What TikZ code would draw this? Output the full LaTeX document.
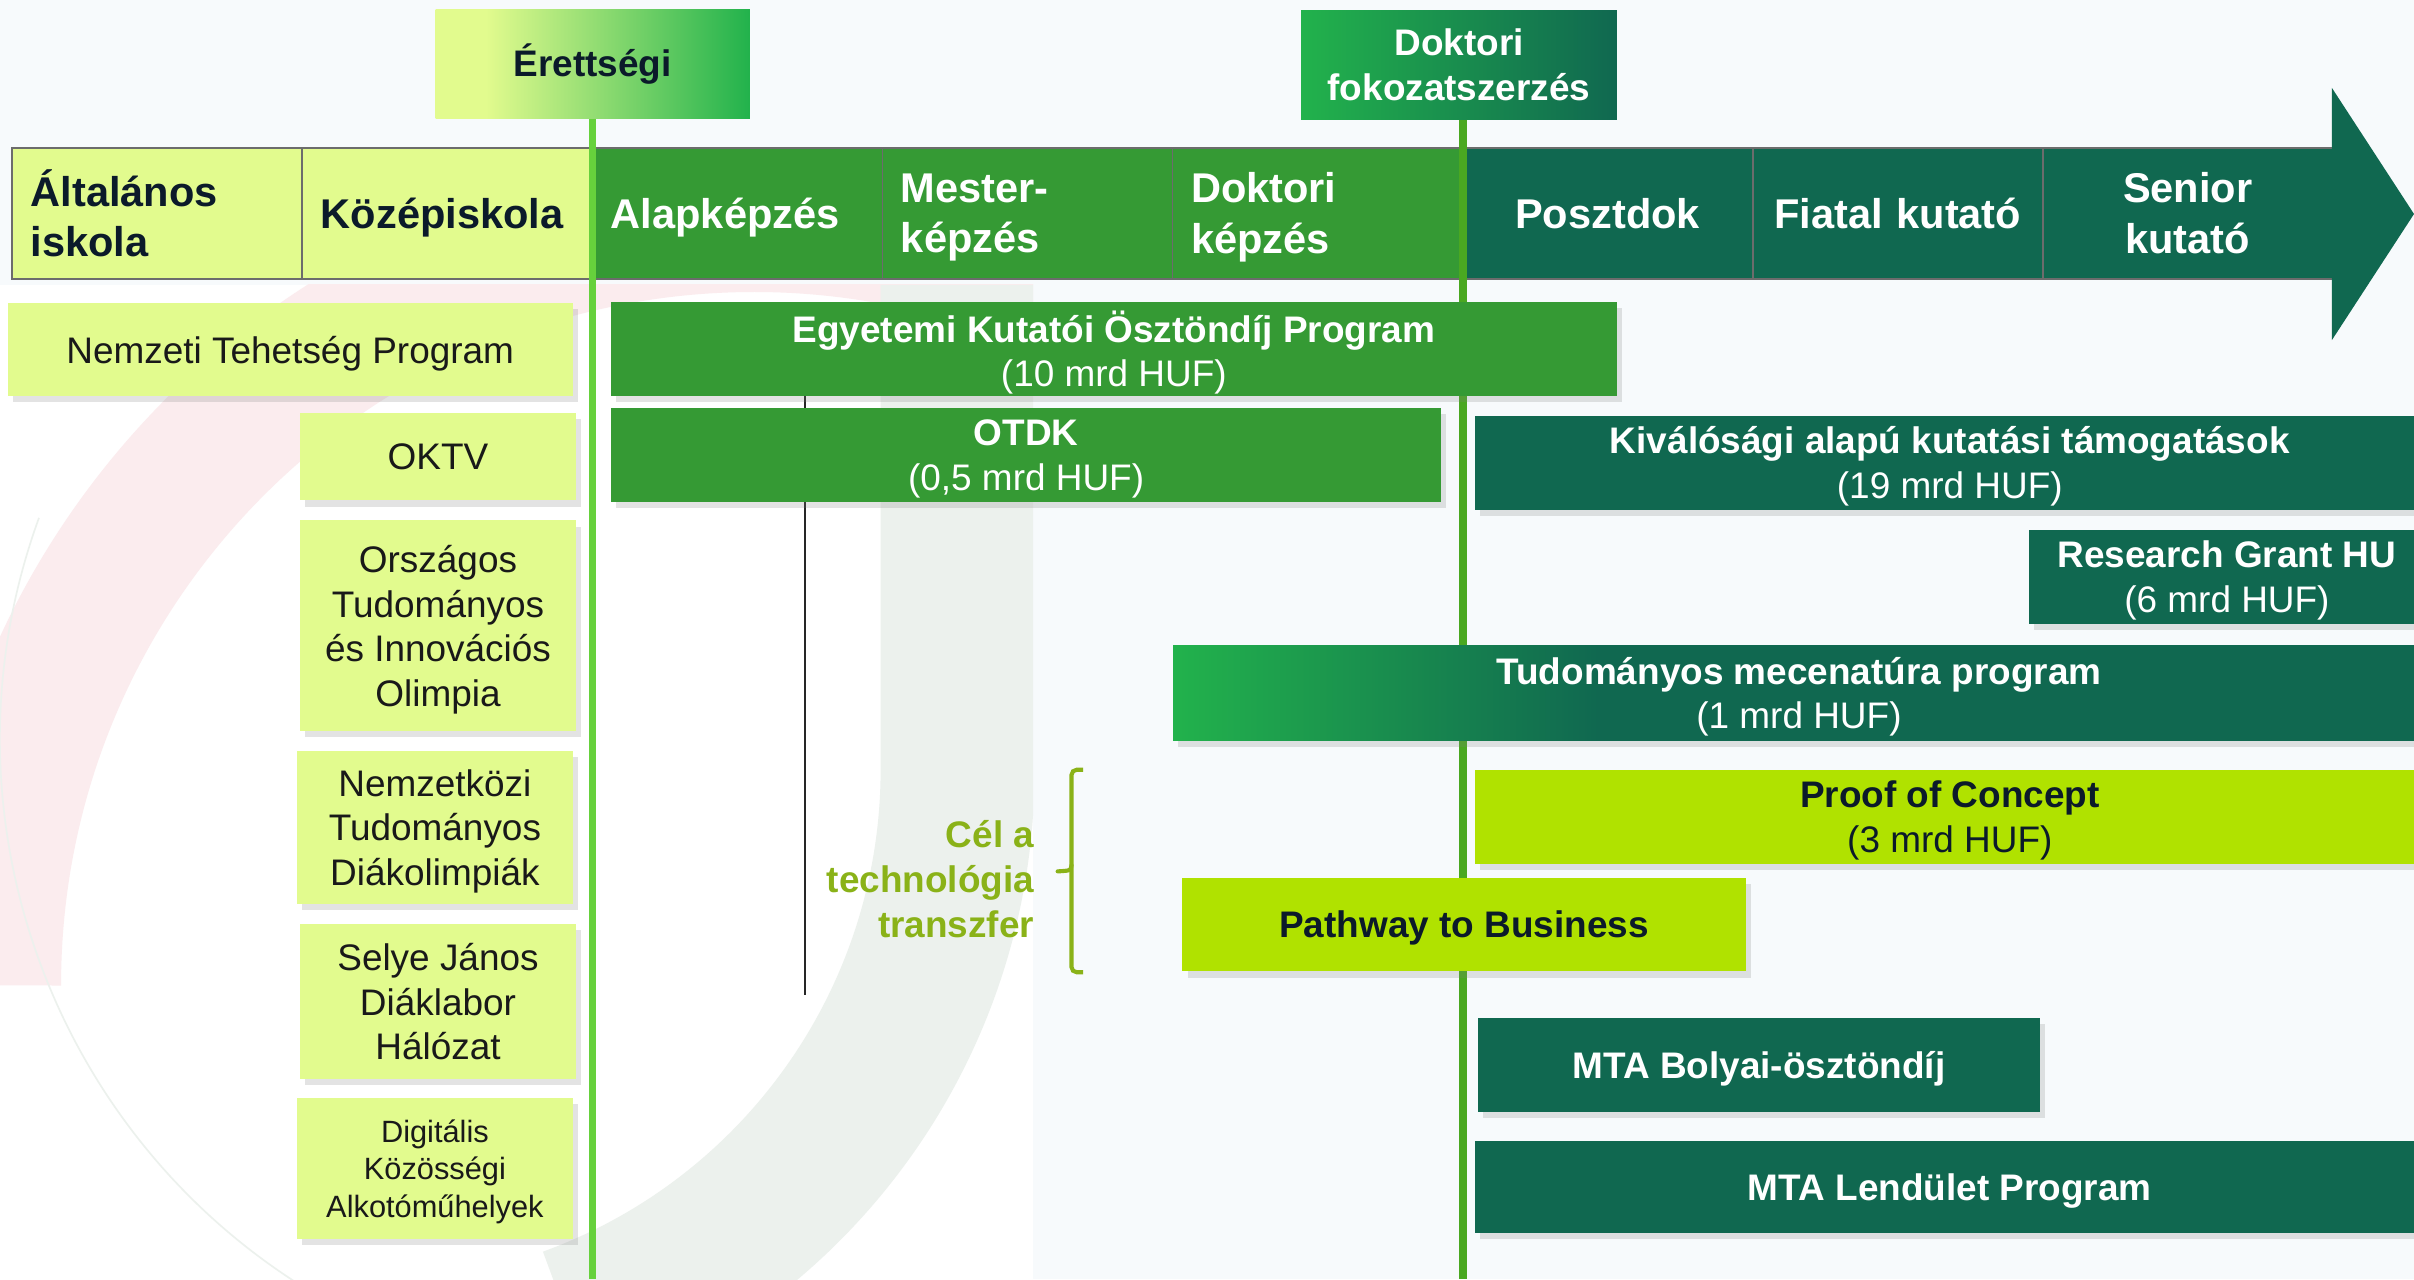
\documentclass[tikz,border=0pt]{standalone}
\usepackage{fontspec}
\setmainfont{Liberation Sans}
\usepackage{xcolor}
\usepackage{tikz}
\usetikzlibrary{shadows}

\definecolor{paleyg}{RGB}{226,251,142}
\definecolor{midgreen}{RGB}{53,154,52}
\definecolor{darkteal}{RGB}{16,104,80}
\definecolor{limeg}{RGB}{176,226,0}
\definecolor{brightg}{RGB}{34,178,76}
\definecolor{navy}{RGB}{11,26,42}
\definecolor{olivetxt}{RGB}{138,178,24}
\definecolor{lineone}{RGB}{102,209,60}
\definecolor{linetwo}{RGB}{74,168,33}
\definecolor{hdrgray}{RGB}{108,108,108}
\definecolor{bgblue}{RGB}{247,250,252}
\definecolor{wmpink}{RGB}{251,236,238}
\definecolor{wmgray}{RGB}{236,241,237}

\pgfdeclarehorizontalshading{mecenshade}{100bp}{color(0bp)=(brightg); color(25bp)=(brightg); color(42bp)=(darkteal); color(100bp)=(darkteal)}
\pgfdeclarehorizontalshading{erettshade}{100bp}{color(0bp)=(paleyg); color(33bp)=(paleyg); color(75bp)=(brightg); color(100bp)=(brightg)}

\tikzset{
  sz/.style 2 args={minimum width=#1*0.75pt, minimum height=#2*0.75pt},
  body/.style={font=\fontsize{18}{21.75}\selectfont},
  hcell/.style={draw=hdrgray, line width=0.9pt, sz={188.4}{85}, text width=123.3pt, inner xsep=9pt, inner ysep=0pt, font=\fontsize{20.25}{24.75}\selectfont\bfseries},
  lbox/.style={fill=paleyg, text=black!90, align=center, inner sep=0pt, text depth=0pt, body, drop shadow={shadow xshift=2.5pt, shadow yshift=-3pt, opacity=0.22}},
  pbox/.style={align=center, inner sep=0pt, text depth=0pt, body, drop shadow={shadow xshift=2.5pt, shadow yshift=-3pt, opacity=0.22}},
  mbox/.style={align=center, inner sep=0pt, font=\fontsize{18}{21.75}\selectfont\bfseries},
}

\begin{document}
\begin{tikzpicture}[x=0.75pt,y=0.75pt,yscale=-1,xscale=1]
\useasboundingbox (0,0) rectangle (1568,831);
\clip (0,0) rectangle (1568,831);

%Background
\fill [bgblue] (0,0) rectangle (1568,831);
\begin{scope}
\clip (0,185) rectangle (671,831);
\fill [white] (0,185) rectangle (671,831);
\draw [wmpink, line width=67pt] (490,640) ++(180:495) arc (180:300:495);
\draw [wmgray, line width=75pt] (622,185) -- (622,500) arc (0:70:383);
\draw [wmgray, line width=0.8pt] (420,480) ++(115:420) arc (115:200:420);
\end{scope}

%Milestones
\node [mbox, sz={204}{71}, shade, shading=erettshade, text=navy] (erett) at (385,41.5) {Érettségi};
\node [mbox, sz={205}{71}, left color=brightg, right color=darkteal, text=white] (dokfok) at (947.7,42) {Doktori\\fokozatszerzés};

%Career stages
\node [hcell, fill=paleyg, text=navy, align=left] (alt) at (102.2,138.5) {Általános\\iskola};
\node [hcell, fill=paleyg, text=navy, align=left, text depth=0pt] (kozep) at (290.6,138.5) {Középiskola};
\node [hcell, fill=midgreen, text=white, align=left, text depth=0pt] (alap) at (479,138.5) {Alapképzés};
\node [hcell, fill=midgreen, text=white, align=left, text depth=24.75pt] (mester) at (667.4,138.5) {Mester-\\képzés};
\node [hcell, fill=midgreen, text=white, align=left, text depth=24.75pt] (doktk) at (855.8,138.5) {Doktori\\képzés};
\node [hcell, fill=darkteal, text=white, align=center] (poszt) at (1044.2,138.5) {Posztdok};
\node [hcell, fill=darkteal, text=white, align=center] (fiatal) at (1232.6,138.5) {Fiatal kutató};
\node [hcell, fill=darkteal, text=white, align=center] (senior) at (1421,138.5) {Senior\\kutató};
%Arrow head
\fill [darkteal] (1514.6,57) -- (1568,139) -- (1514.6,221) -- cycle;

%Straight Lines
\coordinate (ebot) at (385,831);
\coordinate (dbot) at (950.3,831);
\draw [lineone, line width=3.5pt] (erett.south) -- (ebot);
\draw [linetwo, line width=3.5pt] (dokfok.south -| dbot) -- (dbot);
\coordinate (tltop) at (523,257);
\coordinate (tlbot) at (523,646);
\draw [black!85, line width=0.9pt] (tltop) -- (tlbot);

%Talent programmes
\node [lbox, sz={367}{60}] (ntp) at (188.5,227) {Nemzeti Tehetség Program};
\node [lbox, sz={179}{57}] (oktv) at (284.5,296.5) {OKTV};
\node [lbox, sz={179}{137}] (otio) at (284.5,406.5) {Országos\\Tudományos\\és Innovációs\\Olimpia};
\node [lbox, sz={179}{99}] (ntd) at (282.5,537.5) {Nemzetközi\\Tudományos\\Diákolimpiák};
\node [lbox, sz={179}{101}] (sjdh) at (284.5,650.5) {Selye János\\Diáklabor\\Hálózat};
\node [lbox, sz={179}{92}, font=\fontsize{15}{18.4}\selectfont] (dka) at (282.5,759) {Digitális\\Közösségi\\Alkotóműhelyek};

%Research programmes
\node [pbox, fill=midgreen, text=white, sz={653}{61}] (ekop) at (723.5,226.5) {\textbf{Egyetemi Kutatói Ösztöndíj Program}\\(10 mrd HUF)};
\node [pbox, fill=midgreen, text=white, sz={539}{61}] (otdk) at (666.5,295.5) {\textbf{OTDK}\\(0,5 mrd HUF)};
\node [pbox, fill=darkteal, text=white, sz={617}{61}] (kivalo) at (1266.5,300.5) {\textbf{Kiválósági alapú kutatási támogatások}\\(19 mrd HUF)};
\node [pbox, fill=darkteal, text=white, sz={257}{61}] (rghu) at (1446.5,374.5) {\textbf{Research Grant HU}\\(6 mrd HUF)};
\node [pbox, shade, shading=mecenshade, text=white, sz={813}{62}] (mecen) at (1168.5,450) {\textbf{Tudományos mecenatúra program}\\(1 mrd HUF)};
\node [pbox, fill=limeg, text=navy, sz={617}{61}] (poc) at (1266.5,530.5) {\textbf{Proof of Concept}\\(3 mrd HUF)};
\node [pbox, fill=limeg, text=navy, sz={366}{61}, font=\fontsize{18}{21.75}\selectfont\bfseries] (ptb) at (951,600.5) {Pathway to Business};
\node [pbox, fill=darkteal, text=white, sz={365}{61}, font=\fontsize{18}{21.75}\selectfont\bfseries] (bolyai) at (1142.5,691.5) {MTA Bolyai-ösztöndíj};
\node [pbox, fill=darkteal, text=white, sz={617}{60}, font=\fontsize{18}{21.75}\selectfont\bfseries] (lendulet) at (1266.5,771) {MTA Lendület Program};

% Text Node
\node [mbox, text=olivetxt, align=right, anchor=east] (cel) at (672,571) {Cél a\\technológia\\transzfer};
%Bracket
\coordinate (btop) at (703.5,500);
\coordinate (bbot) at (703.5,631.5);
\draw [olivetxt, line width=2pt, rounded corners=2.5pt] (btop) -- ++(-7.5,0) -- ++(0,131.5) -- (bbot);
\draw [olivetxt, line width=2pt, line cap=round] (696,562) .. controls (695.5,565.5) .. (687,566);
\end{tikzpicture}
\end{document}
